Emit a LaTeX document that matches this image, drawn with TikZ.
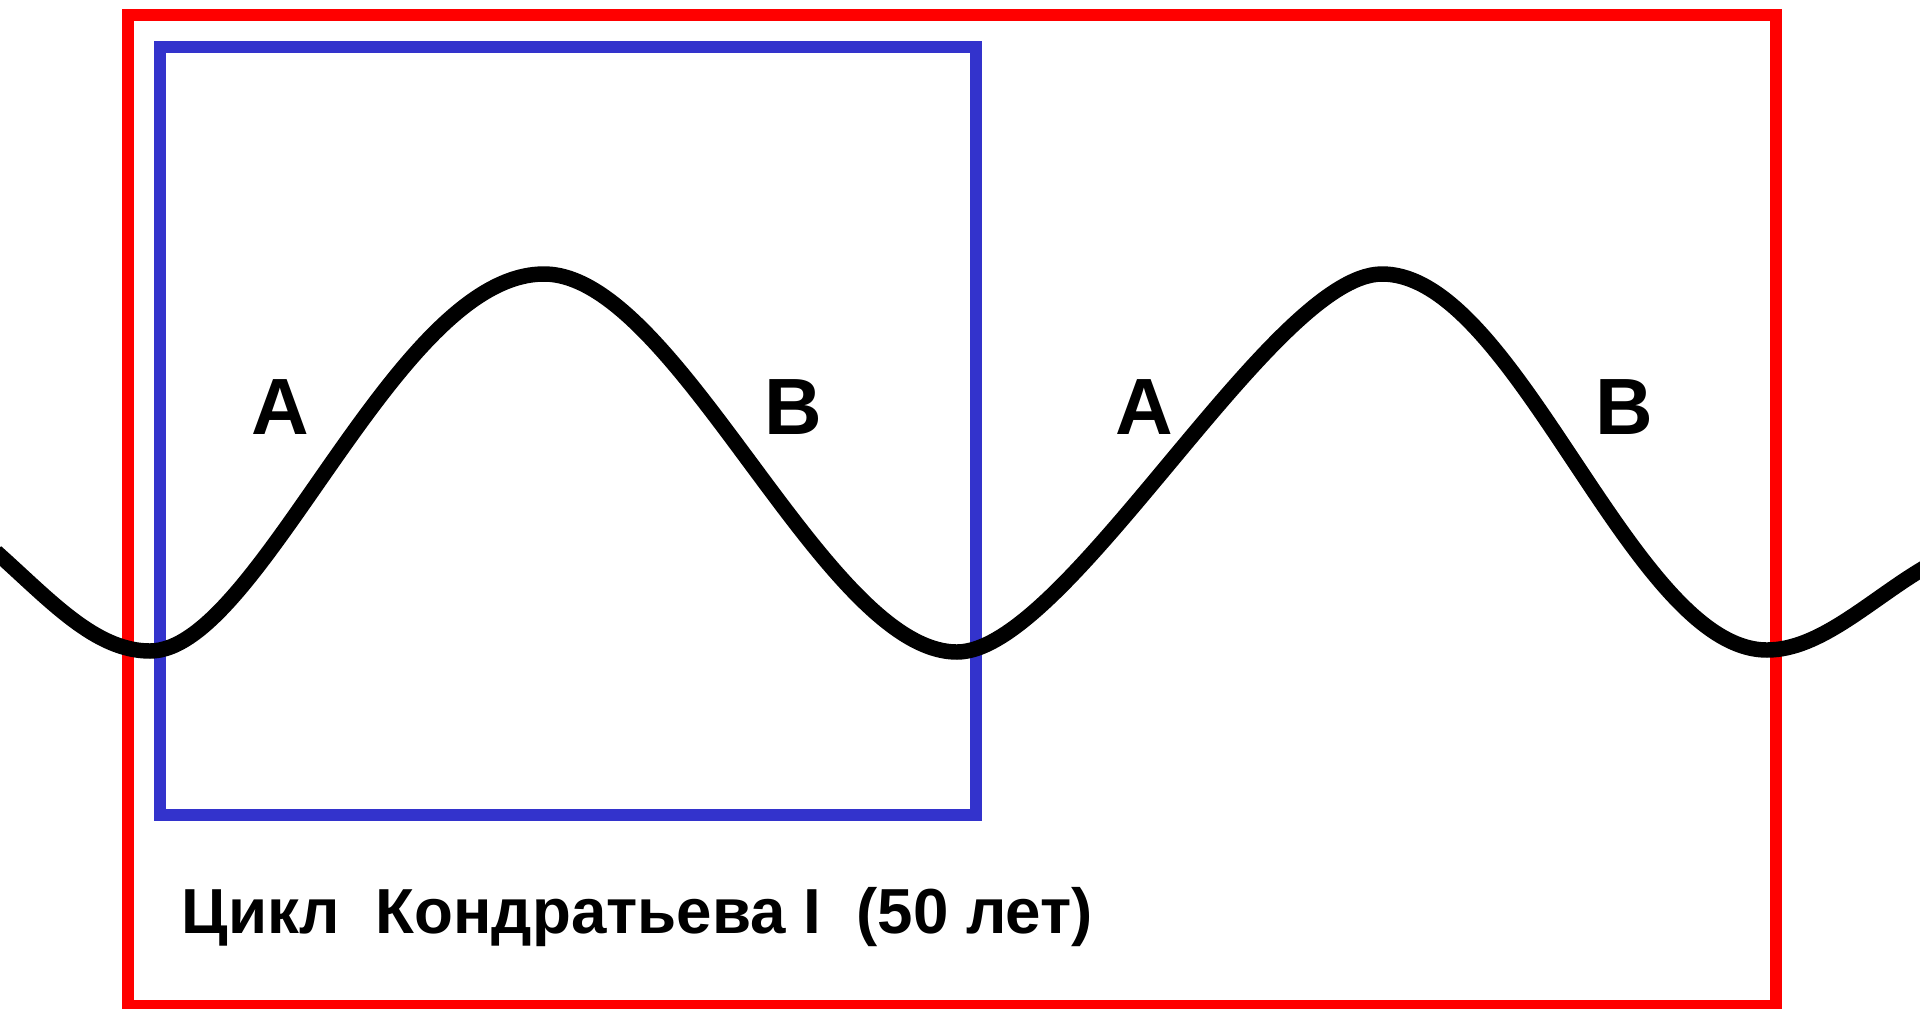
\documentclass[tikz,border=0pt]{standalone}
\usepackage{fontspec}
\setmainfont{Liberation Sans}
\definecolor{framered}{RGB}{255,0,0}
\definecolor{frameblue}{RGB}{51,51,204}
\tikzset{
    phase/.style={font=\bfseries\fontsize{22.7}{27}\selectfont},
    caption/.style={font=\bfseries\fontsize{18.1}{22}\selectfont,anchor=base west,inner sep=0pt}
}
\begin{document}
\begin{tikzpicture}[x=0.01cm,y=-0.01cm]
        \useasboundingbox (0,0) rectangle (1920,1008);
        % draw the frames
        \draw[framered,line width=3.4pt] (128,15) rectangle (1776,1006);
        \draw[frameblue,line width=3.4pt] (160,47) rectangle (976,815);

        % draw the wave
        \draw[line width=4.4pt] (-4,552) .. controls (50,600) and (95,651) .. (150,651)
            .. controls (260,651) and (394,274) .. (544,274)
            .. controls (677,274) and (824,652) .. (957,652)
            .. controls (1067,652) and (1272,274) .. (1382,274)
            .. controls (1517,274) and (1632,650) .. (1767,650)
            .. controls (1820,650) and (1870,600) .. (1924,568);

        % draw the phases
        \foreach \x/\ptext/\pname in {
            280/A/up1,
            793/B/down1,
            1144/A/up2,
            1624/B/down2}
                \node[phase] (\pname) at (\x,407) {\ptext};

        \node[caption] (title) at (181,933) {Цикл\ \ Кондратьева I\ \ (50 лет)};
\end{tikzpicture}
\end{document}
